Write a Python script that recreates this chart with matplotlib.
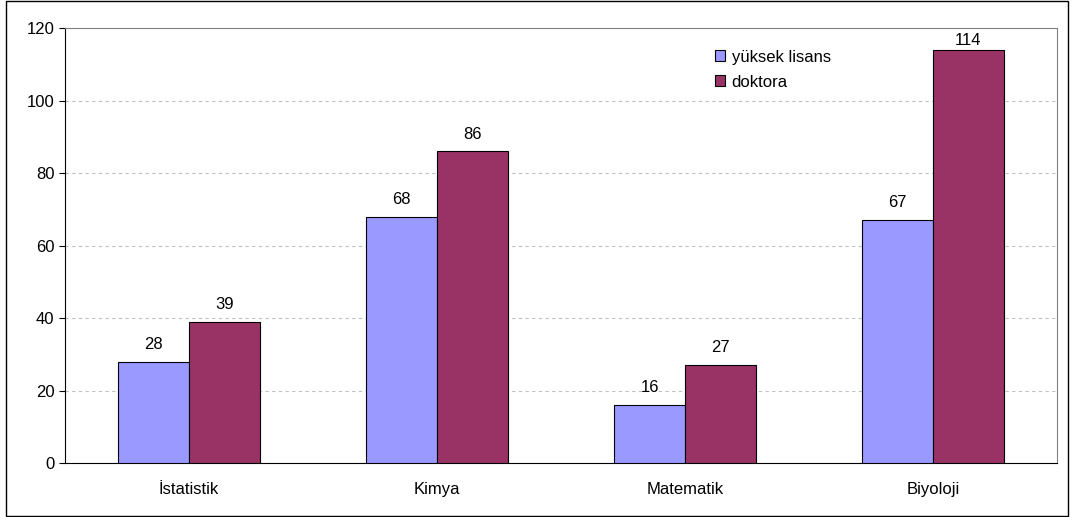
import matplotlib.pyplot as plt
import numpy as np
from matplotlib.patches import Rectangle

plt.rcParams['font.family'] = ['Liberation Sans', 'DejaVu Sans']

categories = ["İstatistik", "Kimya", "Matematik", "Biyoloji"]
yuksek_lisans = [28, 68, 16, 67]
doktora = [39, 86, 27, 114]

fs = 12

fig = plt.figure(figsize=(10.72, 5.17), dpi=100)
ax = fig.add_axes([0.0606, 0.1044, 0.9254, 0.8414])

x = np.arange(len(categories))
w = 0.286
b1 = ax.bar(x - w/2, yuksek_lisans, w, color='#9999FF', edgecolor='black', linewidth=0.8, label='yüksek lisans', zorder=3)
b2 = ax.bar(x + w/2, doktora, w, color='#993366', edgecolor='black', linewidth=0.8, label='doktora', zorder=3)

for bars in (b1, b2):
    for r in bars:
        h = r.get_height()
        # labels near the top edge get pushed down like in excel
        off = 7 if h < 110 else 1
        ax.annotate(str(int(h)), (r.get_x() + r.get_width()/2, h),
                    xytext=(0, off), textcoords='offset points', ha='center', va='bottom', fontsize=fs)

ax.set_xlim(-0.5, 3.5)
ax.set_ylim(0, 120)
ax.set_yticks(range(0, 121, 20))
ax.set_xticks(x)
ax.set_xticklabels(categories, fontsize=fs)
ax.tick_params(axis='y', labelsize=fs, length=4, direction='out')
ax.tick_params(axis='x', length=0, pad=14)
ax.yaxis.grid(True, linestyle=(0, (3, 3)), color='#c0c0c0', linewidth=0.8, zorder=0)

ax.spines['left'].set_color('black')
ax.spines['bottom'].set_color('black')
ax.spines['top'].set_color('#808080')
ax.spines['right'].set_color('#808080')

ax.legend(loc='upper left', bbox_to_anchor=(0.64, 0.985), frameon=False, fontsize=fs,
          handlelength=0.6, handleheight=0.6, handletextpad=0.4, labelspacing=0.6)

fig.patches.append(Rectangle((0.006, 0.002), 0.99, 0.996, transform=fig.transFigure,
                             fill=False, edgecolor='black', linewidth=1))

fig.savefig('out.png', dpi=100)
